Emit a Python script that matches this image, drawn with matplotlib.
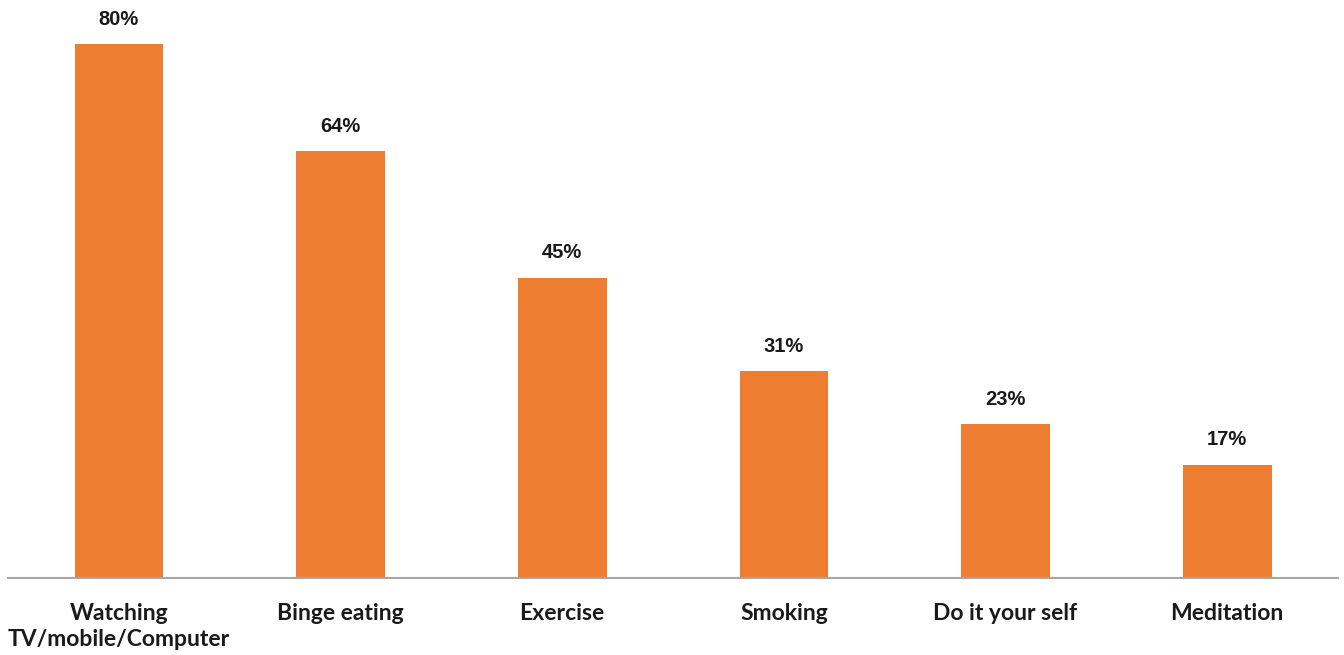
import matplotlib
matplotlib.use("Agg")
import matplotlib.pyplot as plt
import numpy as np

categories = ["Watching\nTV/mobile/Computer", "Binge eating", "Exercise",
              "Smoking", "Do it your self", "Meditation"]
values = [80, 64, 45, 31, 23, 17]
value_labels = ["80%", "64%", "45%", "31%", "23%", "17%"]

bar_color = "#ED7D31"
axis_color = "#A6A6A6"
text_color = "#1A1A1A"

fig = plt.figure(figsize=(13.44, 6.55), dpi=100)
ax = fig.add_axes([8 / 1344, 77 / 655, 1330 / 1344, 568 / 655])

x = np.arange(len(categories))
bars = ax.bar(x, values, width=0.40, color=bar_color, zorder=2)

for b, lab in zip(bars, value_labels):
    ax.annotate(lab, (b.get_x() + b.get_width() / 2, b.get_height()),
                xytext=(0, 11), textcoords="offset points",
                ha="center", va="bottom", fontsize=14.5, fontweight="bold",
                family=["Liberation Sans", "DejaVu Sans"], color=text_color)

ax.set_xlim(-0.5, 5.5)
ax.set_ylim(0, 568 / 6.675)

ax.set_xticks(x)
ax.set_xticklabels(categories, fontsize=16.5, fontweight="bold",
                   family=["Lato", "DejaVu Sans"], color=text_color,
                   linespacing=1.3)
ax.tick_params(axis="x", length=0, pad=18)
ax.set_yticks([])

for s in ["top", "right", "left"]:
    ax.spines[s].set_visible(False)
ax.spines["bottom"].set_color(axis_color)
ax.spines["bottom"].set_linewidth(1.5)
ax.spines["bottom"].set_zorder(3)

fig.savefig("out.png", dpi=100, facecolor="white")
